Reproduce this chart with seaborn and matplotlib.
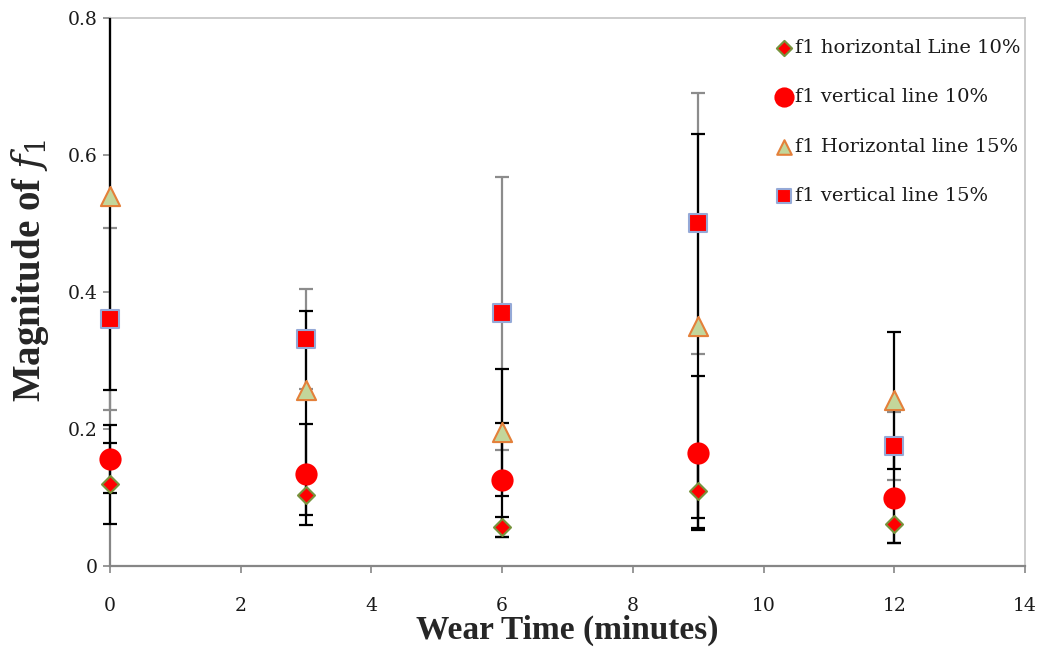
import numpy as np
import pandas as pd
import matplotlib
matplotlib.use("Agg")
import matplotlib.pyplot as plt
from matplotlib.patches import Rectangle
import seaborn as sns

# Wear time (minutes) at which f1 was measured
wear_time = [0, 3, 6, 9, 12]

# Mean magnitude of f1 and its error half-widths for each line orientation / density
h10_mean = [0.120, 0.103, 0.057, 0.109, 0.061]
h10_err = [0.059, 0.028, 0.015, 0.053, 0.027]

v10_mean = [0.156, 0.134, 0.126, 0.165, 0.099]
v10_err = [0.050, 0.074, 0.083, 0.112, 0.065]

h15_mean = [0.540, 0.257, 0.195, 0.350, 0.242]
h15_err = [0.283, 0.115, 0.093, 0.280, 0.100]

v15_mean = [0.360, 0.331, 0.369, 0.500, 0.175]
v15_err = [0.133, 0.073, 0.199, 0.190, 0.050]

labels = ["f1 horizontal Line 10%", "f1 vertical line 10%",
          "f1 Horizontal line 15%", "f1 vertical line 15%"]

sns.set_theme(style="white")
plt.rcParams["font.family"] = ["DejaVu Serif"]
plt.rcParams["mathtext.fontset"] = "dejavuserif"

fig = plt.figure(figsize=(10.5, 6.47), dpi=100)
ax = fig.add_axes([0.1048, 0.1252, 0.8714, 0.8470])

series = [
    dict(label=labels[0], mean=h10_mean, err=h10_err, marker="D", s=75,
         face="#FF0000", edge="#77933C", ecolor="black"),
    dict(label=labels[1], mean=v10_mean, err=v10_err, marker="o", s=210,
         face="#FF0000", edge="#FF0000", ecolor="black"),
    dict(label=labels[2], mean=h15_mean, err=h15_err, marker="^", s=190,
         face="#C3D69B", edge="#E4803A", ecolor="black"),
    dict(label=labels[3], mean=v15_mean, err=v15_err, marker="s", s=170,
         face="#FF0000", edge="#95A9D7", ecolor="#8C8C8C"),
]

# Clip error bars to the plot's vertical range while letting caps at x=0 overhang
clip_rect = Rectangle((-0.05, 0.0), 1.1, 1.0, transform=ax.transAxes,
                      facecolor="none", edgecolor="none")
ax.add_patch(clip_rect)

# Error bars: grey ones first so black ones sit on top
for sr in sorted(series, key=lambda d: d["ecolor"] == "black"):
    _, caps, bars = ax.errorbar(wear_time, sr["mean"], yerr=sr["err"], fmt="none",
                                ecolor=sr["ecolor"], elinewidth=1.6, capsize=5,
                                capthick=1.6, zorder=3)
    for art in list(caps) + list(bars):
        art.set_clip_path(clip_rect)

for sr in series:
    df = pd.DataFrame({"time": wear_time, "value": sr["mean"]})
    sns.scatterplot(data=df, x="time", y="value", ax=ax, marker=sr["marker"],
                    s=sr["s"], color=sr["face"], edgecolor=sr["edge"],
                    linewidth=1.5, label=sr["label"], zorder=4, clip_on=False)

ax.set_xlim(0, 14)
ax.set_ylim(0, 0.8)
ax.set_xticks(np.arange(0, 15, 2))
ax.set_yticks([0, 0.2, 0.4, 0.6, 0.8])
ax.set_yticklabels(["0", "0.2", "0.4", "0.6", "0.8"])

for side in ["left", "bottom"]:
    ax.spines[side].set_color("#868686")
    ax.spines[side].set_linewidth(1.6)
for side in ["top", "right"]:
    ax.spines[side].set_color("#C4C4C4")
    ax.spines[side].set_linewidth(1.2)

ax.tick_params(axis="both", direction="out", length=5, width=1.2,
               color="#868686", labelsize=13.5, labelcolor="#1a1a1a",
               left=True, bottom=True)
ax.tick_params(axis="y", pad=4)
ax.tick_params(axis="x", pad=17)

ax.set_xlabel("Wear Time (minutes)", fontsize=24, fontweight="bold",
              family="Liberation Serif", labelpad=0)
ax.set_ylabel(r"Magnitude of $\mathbf{\mathit{f}}_{\mathbf{\mathit{1}}}$", fontsize=28,
              fontweight="bold", family="Liberation Serif")
ax.yaxis.set_label_coords(-0.064, 0.54)

leg = ax.legend(loc="upper left", bbox_to_anchor=(0.727, 0.962), frameon=False,
                fontsize=14, labelspacing=1.62, handletextpad=0.1,
                handlelength=0.9, borderpad=0, borderaxespad=0,
                labelcolor="#1a1a1a")
sizes = {labels[0]: 60, labels[1]: 170, labels[2]: 110, labels[3]: 90}
for h, t in zip(leg.legend_handles, leg.get_texts()):
    h.set_sizes([sizes[t.get_text()]])

fig.savefig("out.png", dpi=100, facecolor="white")
